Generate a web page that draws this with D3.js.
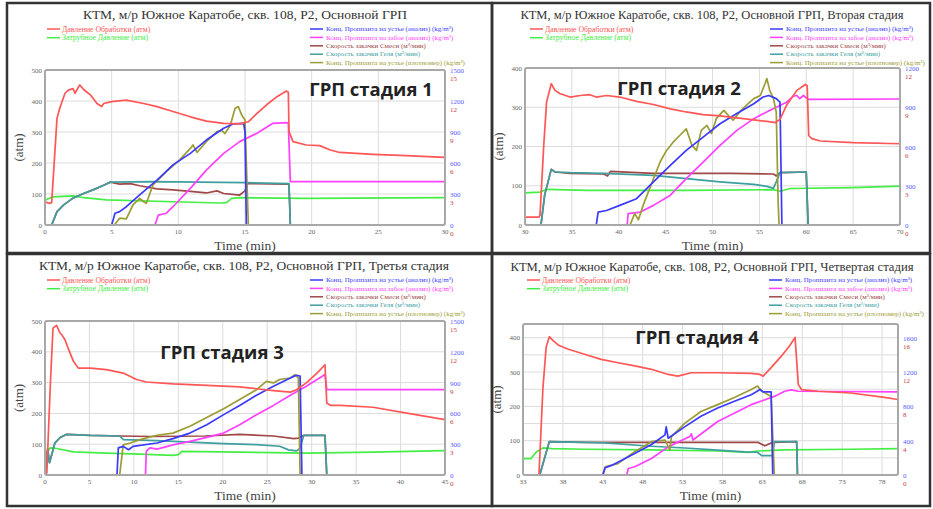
<!DOCTYPE html>
<html>
<head>
<meta charset="utf-8">
<script src="https://cdn.jsdelivr.net/npm/d3@7"></script>
<style>
  body { margin: 0; background: #fff; }
</style>
</head>
<body>
<div id="chart"></div>
<script>
// Graph setup
const width = 933;
const height = 509;
const serif = '"Liberation Serif", "Times New Roman", serif';

// ---- Stage 1 (time min; pressure atm; conc kg/m3; rate m3/min)
const p1Pressure = [[0,75],[0.3,70],[0.5,72],[0.6,140],[0.9,344],[1.1,376],[1.5,425],[1.75,435],[2.1,440],[2.25,425],[2.6,452],[2.9,437],[3.4,420],[3.9,392],[4.25,382],[4.4,392],[5.0,398],[6.1,403],[7.4,392],[8.4,382],[9.6,366],[10.9,349],[12.1,335],[13.4,328],[14.6,326],[15.25,333],[15.9,360],[16.6,387],[17.4,414],[18.1,432],[18.25,428],[18.3,301],[18.6,269],[19.6,258],[20.6,256],[21.4,242],[22.1,234],[24.6,228],[27.1,224],[30,218]];
const p1Annulus = [[0,80],[0.6,91],[2.1,94],[2.9,88],[4.6,81],[9.6,75],[13.1,71],[13.6,72],[14.0,86],[14.6,88],[19.6,86],[30,88]];
const p1ConcSurf = [[5.0,0],[5.25,114],[5.6,129],[6.1,177],[7.1,291],[8.4,435],[9.6,582],[10.9,693],[12.1,822],[13.4,936],[14.1,978],[14.9,984],[15.0,900],[15.1,0]];
const p1ConcBottom = [[5.0,0],[8.25,0],[8.5,96],[9.1,114],[9.6,177],[10.9,354],[12.1,531],[13.4,693],[14.6,807],[15.9,888],[17.1,984],[18.1,990],[18.25,984],[18.4,420],[30,420]];
const p1ConcDens = [[5.2,0],[5.6,66],[6.1,60],[6.6,195],[7.1,258],[7.4,225],[7.6,210],[8.1,387],[9.1,516],[10.1,630],[10.9,741],[11.1,774],[11.4,702],[12.1,807],[12.9,903],[13.25,915],[13.5,885],[13.9,966],[14.25,1128],[14.5,1146],[14.75,1065],[15,1017],[15.1,600],[15.25,0]];
const p1RateSlurry = [[0.5,0],[0.9,1.3],[1.4,1.95],[2.1,2.6],[2.9,3.05],[3.6,3.4],[4.4,3.85],[4.9,4.15],[5.6,3.95],[6.4,4.0],[7.1,3.8],[8.4,3.5],[9.6,3.4],[10.9,3.25],[12.1,3.1],[12.9,3.3],[13.4,3.05],[14.6,2.9],[15.0,3.3],[15.2,4.0],[18.3,3.95],[18.4,0]];
const p1RateGel = [[0.5,0],[0.9,1.3],[1.4,1.95],[2.1,2.6],[2.9,3.05],[3.6,3.4],[4.4,3.85],[4.9,4.15],[8,4.2],[15,4.1],[18.3,4.0],[18.4,0]];

// ---- Stage 2
const p2Pressure = [[30,20],[31.5,20],[31.6,25],[32.0,203],[32.3,313],[32.8,360],[33.2,343],[33.7,335],[34.8,326],[35.9,330],[36.9,332],[37.6,326],[38.7,330],[40.1,326],[41.9,315],[43.7,307],[45.5,296],[47.2,288],[49.0,281],[50.8,278],[52.6,273],[54.4,268],[55.8,264],[56.7,261],[57.2,269],[57.9,305],[59.0,343],[59.9,358],[60.1,355],[60.26,228],[60.6,220],[61.5,214],[65,210],[70,207]];
const p2Annulus = [[30,82],[31.6,84],[32.3,91],[36.6,88],[47.2,88],[56.5,90],[57.2,86],[58.3,93],[65,95],[70,99]];
const p2ConcSurf = [[37.6,0],[37.8,99],[38.7,111],[40.1,150],[41.9,201],[43.7,330],[45.5,456],[47.2,570],[49.0,672],[50.8,774],[52.6,852],[54.4,927],[55.4,978],[56.0,990],[56.8,966],[57.2,939],[57.4,0]];
const p2ConcBottom = [[36.5,0],[40.9,0],[41.0,87],[42.3,99],[43.7,150],[45.5,228],[47.2,354],[49.0,480],[50.8,609],[52.6,723],[54.4,813],[56.1,876],[57.9,939],[58.6,984],[59.0,990],[59.3,966],[59.7,990],[60.2,960],[70,963]];
const p2ConcDens = [[41.2,0],[41.7,87],[42.1,40],[42.6,150],[43.7,354],[44.4,480],[45.1,570],[45.8,633],[46.5,684],[47.2,735],[47.8,609],[48.3,570],[48.8,723],[49.4,762],[49.9,699],[50.4,813],[51.2,876],[51.7,837],[52.2,801],[52.9,864],[53.6,915],[54.4,966],[55.1,990],[55.6,1080],[55.8,1119],[56.1,1029],[56.5,966],[56.8,864],[57.0,177],[57.1,0]];
const p2RateSlurry = [[31.7,0],[32.1,2.3],[32.8,4.25],[33.2,4.05],[34.8,3.95],[38.4,3.9],[38.8,3.75],[39.1,4.1],[43.7,3.95],[47.2,3.95],[52,3.95],[56.5,3.9],[56.8,3.75],[57.2,4.0],[60.0,4.05],[60.2,0]];
const p2RateGel = [[31.7,0],[32.1,2.3],[32.8,4.25],[33.2,4.05],[34.8,4.0],[38.4,3.95],[43.7,3.8],[47.2,3.55],[50.8,3.3],[54.4,3.1],[55.8,2.95],[56.5,2.8],[56.8,3.3],[57.2,4.0],[60.0,4.05],[60.2,0]];

// ---- Stage 3
const p3Pressure = [[0.2,5],[0.6,293],[0.9,477],[1.3,486],[1.7,461],[1.9,455],[2.25,439],[2.6,412],[3.2,369],[3.75,347],[5.1,347],[6.9,342],[8.8,331],[10.3,310],[11.4,302],[14.4,296],[18.2,291],[21.9,286],[23.8,280],[25.7,274],[27.6,269],[28.3,277],[29.4,299],[30.6,331],[31.5,358],[31.7,234],[32.1,226],[33.2,226],[36.9,220],[40.7,201],[45,180]];
const p3Annulus = [[0,66],[0.6,88],[1.3,86],[3.2,75],[6.9,71],[10.7,68],[14.4,64],[15,66],[15.4,77],[21.9,74],[29.4,71],[36.9,74],[45,79]];
const p3ConcSurf = [[8.1,0],[8.25,264],[8.8,279],[9.4,246],[9.9,279],[12.6,312],[14.4,354],[16.3,408],[18.2,489],[20.1,588],[21.9,678],[23.8,777],[25.7,864],[27.6,945],[28.3,972],[28.7,963],[28.9,0]];
const p3ConcBottom = [[10,0],[11.3,0],[11.4,231],[11.8,264],[12.6,252],[14.4,294],[16.3,327],[18.2,366],[20.1,408],[21.9,489],[23.8,588],[25.7,678],[27.6,777],[29.4,864],[31.5,978],[31.7,831],[45,831]];
const p3ConcDens = [[8.4,0],[8.8,294],[9.6,312],[10.7,345],[12.6,387],[14.4,408],[16.3,474],[18.2,561],[20.1,645],[21.9,735],[23.8,831],[24.9,912],[25.7,897],[26.4,930],[27.6,945],[28.1,978],[28.5,945],[28.7,0]];
const p3RateSlurry = [[0.1,0],[0.3,2.55],[0.5,1.2],[0.7,1.8],[1.1,3.1],[1.7,3.65],[2.4,3.95],[5.1,3.85],[8.4,3.8],[12,3.75],[18,3.8],[21.9,3.95],[25.7,3.8],[28.0,3.55],[28.5,3.6],[29.1,3.85],[31.5,3.85],[31.7,0]];
const p3RateGel = [[0.1,0],[0.3,2.55],[0.5,1.2],[0.7,1.8],[1.1,3.1],[1.7,3.65],[2.4,3.95],[5.1,3.85],[8.4,3.8],[8.8,3.45],[12.6,3.35],[16.3,3.2],[20.1,3.05],[23.8,2.95],[26.4,2.8],[27.4,2.45],[28.3,2.35],[28.7,2.6],[29.1,3.85],[31.5,3.85],[31.7,0]];

// ---- Stage 4
const p4Pressure = [[35.0,0],[35.5,254],[35.9,372],[36.3,403],[36.8,391],[37.4,379],[38.6,367],[40.7,352],[42.8,337],[44.9,327],[47.0,318],[49.1,308],[51.2,293],[52.4,288],[54.1,298],[57.4,298],[61.6,296],[62.7,293],[63.1,288],[64.1,313],[65.4,347],[66.4,376],[67.1,401],[67.5,264],[67.9,249],[70,244],[74.1,239],[78.3,226],[80,220]];
const p4Annulus = [[33,48],[34,48],[34.7,68],[35.5,79],[36.6,77],[40.7,75],[49.1,73],[57.4,70],[61.2,66],[62.4,70],[65.8,73],[74.1,75],[80,77]];
const p4ConcSurf = [[43.0,0],[43.3,84],[44.1,112],[47.0,252],[49.1,356],[50.8,468],[50.95,560],[51.2,428],[53.3,564],[55.3,684],[57.4,780],[59.5,860],[61.6,936],[62.2,968],[62.7,996],[63.1,968],[64.1,968],[64.3,0]];
const p4ConcBottom = [[43.7,0],[46.0,0],[46.2,76],[47.0,96],[49.1,192],[51.2,328],[53.9,448],[54.1,480],[54.3,408],[57.4,624],[61.6,820],[64.5,916],[65.8,976],[66.6,992],[67.5,976],[80,968]];
const p4ConcDens = [[43.0,0],[43.3,96],[44.9,132],[47.0,272],[49.1,388],[50.8,408],[51.4,292],[51.6,448],[53.3,604],[55.3,740],[57.4,820],[59.5,904],[61.6,996],[62.4,1036],[62.9,980],[64.1,916],[64.5,0]];
const p4RateSlurry = [[35.1,0],[36.3,3.9],[40.7,3.8],[49.1,3.8],[57.4,3.8],[62.5,3.8],[63.3,3.4],[64.3,3.8],[67.3,3.9],[67.4,0]];
const p4RateGel = [[35.1,0],[36.3,3.9],[40.7,3.8],[43.2,3.75],[49.1,3.35],[53.3,3.15],[57.4,2.9],[60.8,2.7],[62.4,2.65],[62.9,2.25],[64.3,2.25],[64.5,3.9],[67.3,3.9],[67.4,0]];

// Tick labels
const p1TimeTicks = [0, 5, 10, 15, 20, 25, 30];
const p2TimeTicks = [30, 35, 40, 45, 50, 55, 60, 65, 70];
const p3TimeTicks = [0, 5, 10, 15, 20, 25, 30, 35, 40, 45];
const p4TimeTicks = [33, 38, 43, 48, 53, 58, 63, 68, 73, 78];
const pressTicks500 = [0, 100, 200, 300, 400, 500];
const pressTicks400 = [0, 100, 200, 300, 400];
const concTicks1500 = [0, 300, 600, 900, 1200, 1500];
const concTicks1200 = [0, 300, 600, 900, 1200];
const concTicks1600 = [0, 400, 800, 1200, 1600];
const rateTicks15 = [0, 3, 6, 9, 12, 15];
const rateTicks12 = [0, 3, 6, 9, 12];
const rateTicks16 = [0, 4, 8, 12, 16];

// Texts
const titles = [
  'КТМ, м/р Южное Каратобе, скв. 108, Р2, Основной ГРП',
  'КТМ, м/р Южное Каратобе, скв. 108, Р2, Основной ГРП, Вторая стадия',
  'КТМ, м/р Южное Каратобе, скв. 108, Р2, Основной ГРП, Третья стадия',
  'КТМ, м/р Южное Каратобе, скв. 108, Р2, Основной ГРП, Четвертая стадия'
];
const stageLabels = ['ГРП стадия 1', 'ГРП стадия 2', 'ГРП стадия 3', 'ГРП стадия 4'];
const legendLeftNames = ['Давление Обработки (атм)', 'Затрубное Давление (атм)'];
const legendRightNames = [
  'Конц. Проппанта на устье (анализ) (kg/m³)',
  'Конц. Проппанта на забое (анализ) (kg/m³)',
  'Скорость закачки Смеси (м³/мин)',
  'Скорость закачки Геля (м³/мин)',
  'Конц. Проппанта на устье (плотномер) (kg/m³)'
];

const colors = {
  pressure: '#ff5656',
  annulus: '#44ee44',
  concSurf: '#3a3aff',
  concBottom: '#ff40ff',
  rateSlurry: '#a04848',
  rateGel: '#3f9f9f',
  concDens: '#9c9c34'
};
const axisColors = { conc: '#5a5aff', rate: '#c44040' };

// Layout of the four panels
const panels = [
  { box: [7, 3, 485, 250], plot: { left: 45, right: 445, top: 70, bottom: 225 },
    time: [0, 30], timeTicks: p1TimeTicks, pMax: 500, pTicks: pressTicks500, gridStep: 100,
    concMax: 1500, concTicks: concTicks1500, rateMax: 15, rateTicks: rateTicks15,
    titleX: 245, titleY: 19, titleW: 324, stageX: 371, stageY: 96, legLeftX: 47, legRightX: 310, legY: 29,
    series: { pressure: p1Pressure, annulus: p1Annulus, concSurf: p1ConcSurf, concBottom: p1ConcBottom,
      concDens: p1ConcDens, rateSlurry: p1RateSlurry, rateGel: p1RateGel } },
  { box: [492, 3, 438, 250], plot: { left: 525, right: 900, top: 68, bottom: 225 },
    time: [30, 70], timeTicks: p2TimeTicks, pMax: 400, pTicks: pressTicks400, gridStep: 100,
    concMax: 1200, concTicks: concTicks1200, rateMax: 12, rateTicks: rateTicks12,
    titleX: 712, titleY: 19, titleW: 383, stageX: 679, stageY: 95, legLeftX: 530, legRightX: 770, legY: 29,
    series: { pressure: p2Pressure, annulus: p2Annulus, concSurf: p2ConcSurf, concBottom: p2ConcBottom,
      concDens: p2ConcDens, rateSlurry: p2RateSlurry, rateGel: p2RateGel } },
  { box: [7, 254, 485, 252], plot: { left: 45, right: 445, top: 321, bottom: 475 },
    time: [0, 45], timeTicks: p3TimeTicks, pMax: 500, pTicks: pressTicks500, gridStep: 100,
    concMax: 1500, concTicks: concTicks1500, rateMax: 15, rateTicks: rateTicks15,
    titleX: 244, titleY: 270, titleW: 410, stageX: 222, stageY: 359, legLeftX: 47, legRightX: 310, legY: 280,
    series: { pressure: p3Pressure, annulus: p3Annulus, concSurf: p3ConcSurf, concBottom: p3ConcBottom,
      concDens: p3ConcDens, rateSlurry: p3RateSlurry, rateGel: p3RateGel } },
  { box: [492, 254, 438, 252], plot: { left: 523, right: 898, top: 324, bottom: 475 },
    time: [33, 80], timeTicks: p4TimeTicks, pMax: 440, pTicks: pressTicks400, gridStep: 50,
    concMax: 1760, concTicks: concTicks1600, rateMax: 17.6, rateTicks: rateTicks16,
    titleX: 712, titleY: 271, titleW: 403, stageX: 697, stageY: 344, legLeftX: 527, legRightX: 769, legY: 280,
    series: { pressure: p4Pressure, annulus: p4Annulus, concSurf: p4ConcSurf, concBottom: p4ConcBottom,
      concDens: p4ConcDens, rateSlurry: p4RateSlurry, rateGel: p4RateGel } }
];

const svg = d3.select('#chart')
  .append('svg')
  .attr('width', width)
  .attr('height', height);

svg.append('rect').attr('width', width).attr('height', height).attr('fill', '#fff');

// which axis each series uses, in drawing order
const seriesOrder = [
  { key: 'annulus', axis: 'p' },
  { key: 'rateSlurry', axis: 'rate' },
  { key: 'rateGel', axis: 'rate' },
  { key: 'concBottom', axis: 'conc' },
  { key: 'concDens', axis: 'conc' },
  { key: 'concSurf', axis: 'conc' },
  { key: 'pressure', axis: 'p' }
];
const rightLegendKeys = ['concSurf', 'concBottom', 'rateSlurry', 'rateGel', 'concDens'];

panels.forEach((pn, i) => {
  const g = svg.append('g').attr('font-family', serif);
  const { left, right, top, bottom } = pn.plot;

  const x = d3.scaleLinear().domain(pn.time).range([left, right]);
  const yP = d3.scaleLinear().domain([0, pn.pMax]).range([bottom, top]);
  const yConc = d3.scaleLinear().domain([0, pn.concMax]).range([bottom, top]);
  const yRate = d3.scaleLinear().domain([0, pn.rateMax]).range([bottom, top]);
  const scales = { p: yP, conc: yConc, rate: yRate };

  // panel frame
  g.append('rect')
    .attr('x', pn.box[0]).attr('y', pn.box[1])
    .attr('width', pn.box[2]).attr('height', pn.box[3])
    .attr('fill', 'none').attr('stroke', '#333').attr('stroke-width', 2.5);

  // title
  g.append('text')
    .attr('x', pn.titleX).attr('y', pn.titleY)
    .attr('text-anchor', 'middle')
    .attr('font-size', 12.5).attr('fill', '#333')
    .attr('textLength', pn.titleW).attr('lengthAdjust', 'spacingAndGlyphs')
    .text(titles[i]);

  // legends
  legendLeftNames.forEach((name, j) => {
    const key = j === 0 ? 'pressure' : 'annulus';
    const ly = pn.legY + j * 8.7;
    g.append('line').attr('x1', pn.legLeftX).attr('x2', pn.legLeftX + 13)
      .attr('y1', ly).attr('y2', ly).attr('stroke', colors[key]).attr('stroke-width', 1.5);
    g.append('text').attr('x', pn.legLeftX + 15).attr('y', ly + 2.5)
      .attr('font-size', 7.8).attr('fill', colors[key]).text(name);
  });
  legendRightNames.forEach((name, j) => {
    const key = rightLegendKeys[j];
    const ly = pn.legY + j * 8.4;
    g.append('line').attr('x1', pn.legRightX).attr('x2', pn.legRightX + 13)
      .attr('y1', ly).attr('y2', ly).attr('stroke', colors[key]).attr('stroke-width', 1.5);
    g.append('text').attr('x', pn.legRightX + 16).attr('y', ly + 2.2)
      .attr('font-size', 7).attr('fill', colors[key]).text(name);
  });

  // grid
  const gridVals = d3.range(0, pn.pMax + 0.01, pn.gridStep);
  g.selectAll('.hgrid').data(gridVals).enter().append('line')
    .attr('x1', left).attr('x2', right)
    .attr('y1', d => yP(d)).attr('y2', d => yP(d))
    .attr('stroke', '#dcdcdc').attr('stroke-width', 1);
  g.selectAll('.vgrid').data(pn.timeTicks).enter().append('line')
    .attr('x1', d => x(d)).attr('x2', d => x(d))
    .attr('y1', top).attr('y2', bottom)
    .attr('stroke', '#dcdcdc').attr('stroke-width', 1);

  // left axis labels
  g.selectAll('.pt').data(pn.pTicks).enter().append('text')
    .attr('x', left - 3).attr('y', d => yP(d) + 2.5)
    .attr('text-anchor', 'end').attr('font-size', 7).attr('fill', '#666')
    .text(d => d);
  // right axis labels
  g.selectAll('.ct').data(pn.concTicks).enter().append('text')
    .attr('x', right + 5).attr('y', d => yConc(d) + 3)
    .attr('font-size', 7).attr('fill', axisColors.conc)
    .text(d => d);
  g.selectAll('.rt').data(pn.rateTicks).enter().append('text')
    .attr('x', right + 5).attr('y', d => yRate(d) + 11)
    .attr('font-size', 7).attr('fill', axisColors.rate)
    .text(d => d);
  // time labels
  g.selectAll('.tt').data(pn.timeTicks).enter().append('text')
    .attr('x', d => x(d)).attr('y', bottom + 9)
    .attr('text-anchor', 'middle').attr('font-size', 7).attr('fill', '#666')
    .text(d => d);

  // axis titles
  g.append('text')
    .attr('x', (left + right) / 2).attr('y', bottom + 25)
    .attr('text-anchor', 'middle').attr('font-size', 13.5).attr('fill', '#444')
    .text('Time (min)');
  g.append('text')
    .attr('transform', `translate(${left - 22},${(top + bottom) / 2}) rotate(-90)`)
    .attr('text-anchor', 'middle').attr('font-size', 13).attr('fill', '#444')
    .text('(atm)');

  // series
  const clipId = 'clip' + i;
  g.append('clipPath').attr('id', clipId).append('rect')
    .attr('x', left).attr('y', top - 2).attr('width', right - left).attr('height', bottom - top + 2);
  const lines = g.append('g').attr('clip-path', `url(#${clipId})`);
  seriesOrder.forEach(s => {
    const yS = scales[s.axis];
    const line = d3.line().x(d => x(d[0])).y(d => yS(d[1]));
    lines.append('path')
      .datum(pn.series[s.key])
      .attr('d', line)
      .attr('fill', 'none')
      .attr('stroke', colors[s.key])
      .attr('stroke-width', 1.7)
      .attr('stroke-linejoin', 'round');
  });

  // plot frame
  g.append('rect')
    .attr('x', left).attr('y', top)
    .attr('width', right - left).attr('height', bottom - top)
    .attr('rx', 2)
    .attr('fill', 'none').attr('stroke', '#a8a8a8').attr('stroke-width', 2);

  // stage label
  g.append('text')
    .attr('x', pn.stageX).attr('y', pn.stageY)
    .attr('text-anchor', 'middle')
    .attr('font-family', '"Open Sans", "DejaVu Sans", sans-serif')
    .attr('font-weight', 'bold').attr('font-size', 18.5).attr('fill', '#222')
    .text(stageLabels[i]);
});
</script>
</body>
</html>
